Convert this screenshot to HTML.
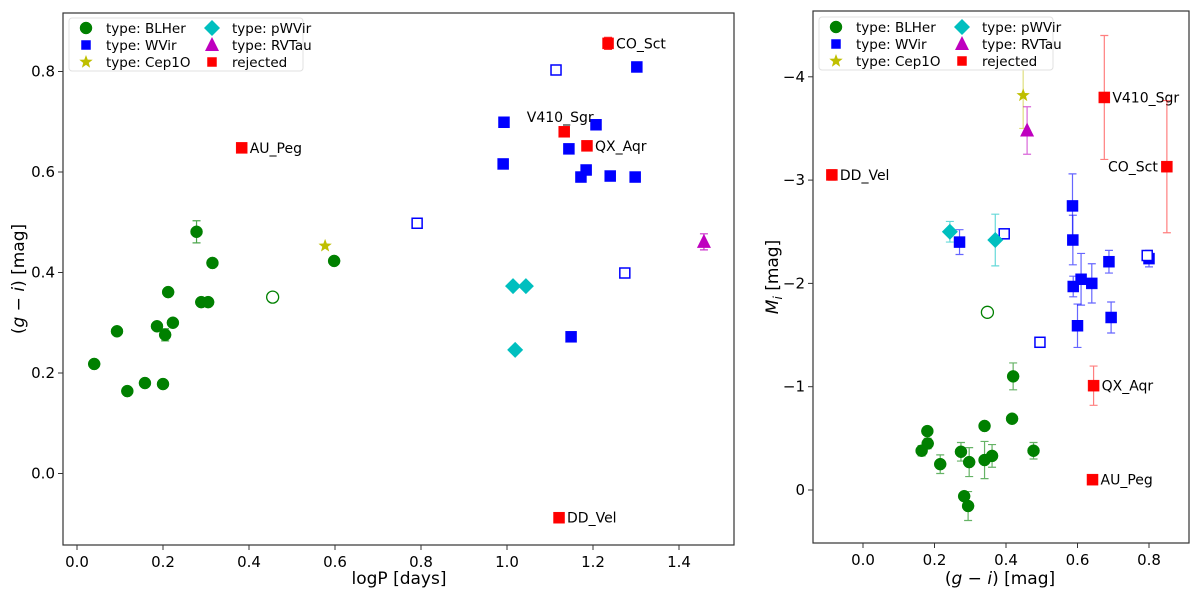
<!DOCTYPE html>
<html><head><meta charset="utf-8"><style>
body{margin:0;background:#fff;font-family:"Liberation Sans","DejaVu Sans",sans-serif}
svg text{font-family:"DejaVu Sans","Liberation Sans",sans-serif}
</style></head><body>
<svg id="c" width="1200" height="598" xmlns="http://www.w3.org/2000/svg"></svg>
<script>
// ---- Left panel data: logP vs (g-i) ----
const L_blher_x=[0.04,0.093,0.117,0.158,0.186,0.200,0.205,0.223,0.212,0.289,0.305,0.278,0.315,0.598];
const L_blher_y=[0.218,0.283,0.164,0.180,0.293,0.178,0.276,0.300,0.361,0.341,0.341,0.481,0.419,0.423];
const L_blher_e=[0,0,0,0,0,0,0.012,0,0,0,0,0.022,0,0];
const L_blherOpen_x=[0.455]; const L_blherOpen_y=[0.351];
const L_wvir_x=[1.302,0.993,1.207,1.144,0.991,1.184,1.172,1.240,1.298,1.149];
const L_wvir_y=[0.809,0.699,0.694,0.646,0.616,0.604,0.590,0.592,0.590,0.272];
const L_wvirOpen_x=[1.114,1.274,0.791]; const L_wvirOpen_y=[0.803,0.399,0.498];
const L_cep_x=[0.577]; const L_cep_y=[0.453];
const L_pw_x=[1.014,1.044,1.019]; const L_pw_y=[0.373,0.373,0.246];
const L_rv_x=[1.458]; const L_rv_y=[0.461]; const L_rv_e=[0.016];
const L_rej_x=[0.383,1.235,1.133,1.186,1.121]; const L_rej_y=[0.648,0.856,0.680,0.652,-0.088];
const L_rej_e=[0,0.012,0,0,0];
const L_rej_names=["AU_Peg","CO_Sct","V410_Sgr","QX_Aqr","DD_Vel"];
const L_xticks=[0.0,0.2,0.4,0.6,0.8,1.0,1.2,1.4];
const L_yticks=[0.0,0.2,0.4,0.6,0.8];
// ---- Right panel data: (g-i) vs M_i ----
const R_blher_x=[0.164,0.180,0.181,0.216,0.274,0.297,0.283,0.294,0.340,0.361,0.340,0.417,0.420,0.477];
const R_blher_y=[0.38,0.57,0.45,0.25,0.37,0.27,-0.06,-0.155,0.29,0.33,0.62,0.69,1.10,0.38];
const R_blher_e=[0.05,0.04,0.05,0.09,0.09,0.14,0.0,0.14,0.18,0.11,0.0,0.0,0.13,0.08];
const R_blherOpen_x=[0.348]; const R_blherOpen_y=[1.72];
const R_wvir_x=[0.270,0.586,0.587,0.588,0.610,0.640,0.688,0.800,0.600,0.694];
const R_wvir_y=[2.40,2.75,2.42,1.97,2.04,2.00,2.21,2.24,1.59,1.67];
const R_wvir_e=[0.12,0.31,0.24,0.10,0.25,0.19,0.11,0.08,0.21,0.15];
const R_wvirOpen_x=[0.395,0.795,0.495]; const R_wvirOpen_y=[2.48,2.27,1.43];
const R_cep_x=[0.448]; const R_cep_y=[3.82]; const R_cep_e=[0.32];
const R_pw_x=[0.243,0.370]; const R_pw_y=[2.50,2.42]; const R_pw_e=[0.10,0.25];
const R_rv_x=[0.459]; const R_rv_y=[3.48]; const R_rv_e=[0.23];
const R_rej_x=[-0.087,0.675,0.850,0.645,0.642]; const R_rej_y=[3.05,3.80,3.13,1.01,0.10];
const R_rej_e=[0.05,0.60,0.64,0.19,0];
const R_rej_names=["DD_Vel","V410_Sgr","CO_Sct","QX_Aqr","AU_Peg"];
const R_xticks=[0.0,0.2,0.4,0.6,0.8];
const R_yticks=[0,-1,-2,-3,-4];

const svg=document.getElementById('c');
const NS='http://www.w3.org/2000/svg';
function mk(tag,attrs,parent){const e=document.createElementNS(NS,tag);for(const k in attrs)e.setAttribute(k,attrs[k]);(parent||svg).appendChild(e);return e;}

const Lx=v=>77+v*430, Ly=v=>473.5-v*502.5;
const Rx=v=>863+v*357.5, Ry=v=>490-v*103.3;

const G='#008000',B='#0000ff',YEL='#bfbf00',C='#00bfbf',M='#bf00bf',Rd='#ff0000';

function circle(g,x,y,col,open){const e=mk('circle',{cx:x,cy:y,r:6,fill:open?'#fff':col,stroke:col,'stroke-width':open?1.3:0.5},g);}
function square(g,x,y,col,open,s){s=s||11;const e=mk('rect',{x:x-s/2,y:y-s/2,width:s,height:s,fill:open?'#fff':col,stroke:col,'stroke-width':open?1.5:0.5},g);}
function diamond(g,x,y,col){const d=8;const e=mk('polygon',{points:`${x},${y-d} ${x+d},${y} ${x},${y+d} ${x-d},${y}`,fill:col},g);}
function tri(g,x,y,col){const e=mk('polygon',{points:`${x},${y-8} ${x+7},${y+6} ${x-7},${y+6}`,fill:col},g);}
function star(g,x,y,col,r){r=r||7;let p=[];for(let i=0;i<10;i++){const a=-Math.PI/2+i*Math.PI/5;const rr=i%2?r*0.42:r;p.push((x+rr*Math.cos(a)).toFixed(1)+','+(y+rr*Math.sin(a)).toFixed(1));}const e=mk('polygon',{points:p.join(' '),fill:col},g);}
function ebar(g,x,y1,y2,col,op){const e=mk('path',{d:`M${x},${y1}V${y2}M${x-4},${y1}H${x+4}M${x-4},${y2}H${x+4}`,stroke:col,'stroke-width':1.2,fill:'none',opacity:op},g);}
function txt(g,x,y,s,size,anchor,extra){const e=mk('text',Object.assign({x:x,y:y,'font-size':size,fill:'#000','text-anchor':anchor||'start'},extra||{}),g);e.textContent=s;return e;}

function axes(name,x0,y0,x1,y1,xt,yt,sx,sy,fmtx,fmty){
  const g=mk('g',{});
  const fr=mk('rect',{x:x0,y:y0,width:x1-x0,height:y1-y0,fill:'none',stroke:'#333','stroke-width':1.2},g);
  
  xt.forEach(v=>{const X=sx(v);mk('line',{x1:X,y1:y1,x2:X,y2:y1+5,stroke:'#333'},g);const t=txt(g,X,y1+22,fmtx(v),15,'middle');});
  yt.forEach(v=>{const Yp=sy(v);mk('line',{x1:x0-5,y1:Yp,x2:x0,y2:Yp,stroke:'#333'},g);const t=txt(g,x0-8,Yp+5,fmty(v),15,'end');});
  return g;
}
const neg=v=>v<0?'\u2212'+Math.abs(v):String(v);

// ----- Left panel -----
const gl=axes('left',63,13,734,545,L_xticks,L_yticks,Lx,Ly,v=>v.toFixed(1),v=>v.toFixed(1));
const lm=mk('g',{},gl);
L_blher_x.forEach((v,i)=>{if(L_blher_e[i])ebar(lm,Lx(v),Ly(L_blher_y[i]-L_blher_e[i]),Ly(L_blher_y[i]+L_blher_e[i]),G,0.7);circle(lm,Lx(v),Ly(L_blher_y[i]),G,false);});
L_blherOpen_x.forEach((v,i)=>circle(lm,Lx(v),Ly(L_blherOpen_y[i]),G,true));
L_wvir_x.forEach((v,i)=>square(lm,Lx(v),Ly(L_wvir_y[i]),B,false));
L_wvirOpen_x.forEach((v,i)=>square(lm,Lx(v),Ly(L_wvirOpen_y[i]),B,true,10));
L_cep_x.forEach((v,i)=>star(lm,Lx(v),Ly(L_cep_y[i]),YEL));
L_pw_x.forEach((v,i)=>diamond(lm,Lx(v),Ly(L_pw_y[i]),C));
L_rv_x.forEach((v,i)=>{ebar(lm,Lx(v),Ly(L_rv_y[i]-L_rv_e[i]),Ly(L_rv_y[i]+L_rv_e[i]),M,0.8);tri(lm,Lx(v),Ly(L_rv_y[i]),M);});
L_rej_x.forEach((v,i)=>{const X=Lx(v),Yp=Ly(L_rej_y[i]);if(L_rej_e[i])ebar(lm,X,Yp-6,Yp+6,Rd,0.8);square(lm,X,Yp,Rd,false);
  const n=L_rej_names[i];let t;
  if(n==='V410_Sgr')t=txt(lm,X-4,Yp-10,n,14,'middle');else t=txt(lm,X+8,Yp+5,n,14,'start');
  });
let t1=txt(svg,399,584,'logP [days]',17,'middle');
let t2=mk('text',{x:0,y:0,'font-size':17,'text-anchor':'middle',transform:'translate(24,279) rotate(-90)'});
t2.innerHTML='(<tspan font-style="italic">g</tspan> \u2212 <tspan font-style="italic">i</tspan>) [mag]';


// ----- Right panel -----
const gr=axes('right',813,11,1189,543,R_xticks,R_yticks,Rx,v=>Ry(-v),v=>v.toFixed(1),neg);
const rm=mk('g',{},gr);
const RY=v=>Ry(v);
R_blher_x.forEach((v,i)=>{const e=R_blher_e[i];if(e)ebar(rm,Rx(v),RY(R_blher_y[i]-e),RY(R_blher_y[i]+e),G,0.6);circle(rm,Rx(v),RY(R_blher_y[i]),G,false);});
R_blherOpen_x.forEach((v,i)=>circle(rm,Rx(v),RY(R_blherOpen_y[i]),G,true));
R_wvir_x.forEach((v,i)=>{const e=R_wvir_e[i];ebar(rm,Rx(v),RY(R_wvir_y[i]-e),RY(R_wvir_y[i]+e),B,0.6);square(rm,Rx(v),RY(R_wvir_y[i]),B,false);});
R_wvirOpen_x.forEach((v,i)=>square(rm,Rx(v),RY(R_wvirOpen_y[i]),B,true,10));
R_cep_x.forEach((v,i)=>{ebar(rm,Rx(v),RY(R_cep_y[i]-R_cep_e[i]),RY(R_cep_y[i]+R_cep_e[i]),YEL,0.5);star(rm,Rx(v),RY(R_cep_y[i]),YEL);});
R_pw_x.forEach((v,i)=>{ebar(rm,Rx(v),RY(R_pw_y[i]-R_pw_e[i]),RY(R_pw_y[i]+R_pw_e[i]),C,0.6);diamond(rm,Rx(v),RY(R_pw_y[i]),C);});
R_rv_x.forEach((v,i)=>{ebar(rm,Rx(v),RY(R_rv_y[i]-R_rv_e[i]),RY(R_rv_y[i]+R_rv_e[i]),M,0.6);tri(rm,Rx(v),RY(R_rv_y[i]),M);});
R_rej_x.forEach((v,i)=>{const X=Rx(v),Yp=RY(R_rej_y[i]),e=R_rej_e[i];if(e)ebar(rm,X,RY(R_rej_y[i]-e),RY(R_rej_y[i]+e),Rd,0.5);square(rm,X,Yp,Rd,false);
  const n=R_rej_names[i];let t;
  if(n==='CO_Sct')t=txt(rm,X-9,Yp+5,n,14,'end');else t=txt(rm,X+8,Yp+5,n,14,'start');
  });
let t3=mk('text',{x:1000,y:584,'font-size':17,'text-anchor':'middle'});
t3.innerHTML='(<tspan font-style="italic">g</tspan> \u2212 <tspan font-style="italic">i</tspan>) [mag]';

let t4=mk('text',{x:0,y:0,'font-size':17,'text-anchor':'middle',transform:'translate(778,277) rotate(-90)'});
t4.innerHTML='<tspan font-style="italic">M</tspan><tspan font-style="italic" font-size="12" dy="4">i</tspan><tspan dy="-4"> [mag]</tspan>';


// ----- Legends -----
function legend(name,x,y){
  const g=mk('g',{});
  mk('rect',{x:x,y:y,width:234,height:53,rx:3,fill:'#fff',stroke:'#ddd','stroke-width':1,opacity:0.9},g);
  const rows=[[0,0,'type: BLHer',(gg,X,Yp)=>circle(gg,X,Yp,G,false)],[0,1,'type: WVir',(gg,X,Yp)=>square(gg,X,Yp,B,false,9)],[0,2,'type: Cep1O',(gg,X,Yp)=>star(gg,X,Yp,YEL)],
    [1,0,'type: pWVir',(gg,X,Yp)=>diamond(gg,X,Yp,C)],[1,1,'type: RVTau',(gg,X,Yp)=>tri(gg,X,Yp,M)],[1,2,'rejected',(gg,X,Yp)=>square(gg,X,Yp,Rd,false,9)]];
  rows.forEach(r=>{const X=x+17+r[0]*126,Yp=y+10+r[1]*17;
    const e=mk('g',{},g);
    r[3](e,X,Yp);txt(e,X+20,Yp+5,r[2],13.5,'start');});
}
legend('left-legend',69,18);
legend('right-legend',819,17);
</script>
</body></html>
